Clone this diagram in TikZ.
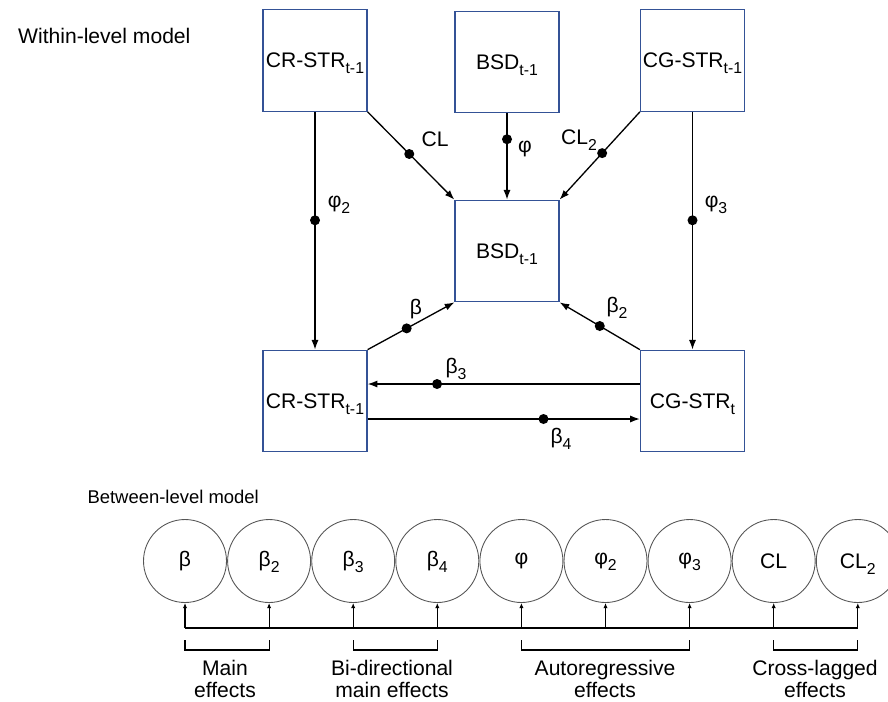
\documentclass[tikz,border=0pt]{standalone}
\usepackage{fontspec}
\setmainfont{Liberation Sans}
\usetikzlibrary{arrows.meta}
\definecolor{boxblue}{RGB}{52,82,150}
\definecolor{ringgray}{RGB}{85,85,85}
\newcommand{\lowsub}[1]{\raisebox{-3.4pt}[0pt][0pt]{\fontsize{9}{10}\selectfont #1}}

\begin{document}
\begin{tikzpicture}[x=0.02cm,y=-0.02cm,
    font=\fontsize{12}{13}\selectfont,
    var/.style={draw=boxblue,line width=0.7pt,minimum width=2.08cm,minimum height=2.03cm,inner sep=0pt},
    link/.style={-{Latex[length=5.5pt,width=4pt]},line width=0.75pt},
    dot/.style={circle,fill=black,minimum size=0.2cm,inner sep=0pt},
    effect/.style={circle,draw=ringgray,line width=0.5pt,minimum size=1.66cm,inner sep=0pt},
    feed/.style={-{Latex[length=3pt,width=2.5pt]},line width=0.6pt}]
    \clip (0,0) rectangle (888,701);

    \node[anchor=base west] (within) at (12,43) {Within-level model};

    \node[var] (crA) at (315,60.5) {CR-STR\lowsub{t-1}};
    \node[var] (bsdA) at (507,62) {BSD\lowsub{t-1}};
    \node[var] (cgA) at (692.5,60.5) {CG-STR\lowsub{t-1}};
    \node[var] (bsdB) at (507,251) {BSD\lowsub{t-1}};
    \node[var] (crB) at (315,401) {CR-STR\lowsub{t-1}};
    \node[var] (cgB) at (692.5,401) {CG-STR\lowsub{t}};

    \draw[link] (crA.south east) -- node[dot,pos=.48] (dCL) {} (bsdB.north west);
    \draw[link] (bsdA.south) -- node[dot,pos=.3] (dP) {} (bsdB.north);
    \draw[link] (cgA.south west) -- node[dot,pos=.47] (dCL2) {} (bsdB.north east);
    \draw[link] (crA.south) -- node[dot,pos=.456] (dP2) {} (crB.north);
    \draw[link] (cgA.south) -- node[dot,pos=.456] (dP3) {} (cgB.north);
    \draw[link] (crB.north east) -- node[dot,pos=.45] (dB) {} (bsdB.south west);
    \draw[link] (cgB.north west) -- node[dot,pos=.5] (dB2) {} (bsdB.south east);
    \draw[link] ([yshift=0.34cm]cgB.west) -- node[dot,pos=.745] (dB3) {} ([yshift=0.34cm]crB.east);
    \draw[link] ([yshift=-0.36cm]crB.east) -- node[dot,pos=.646] (dB4) {} ([yshift=-0.36cm]cgB.west);

    \node (lCL) at (435,139) {CL};
    \node (lP) at (525,149) {φ};
    \node (lCL2) at (579,137) {CL\lowsub{2}};
    \node (lP2) at (339,204) {φ\lowsub{2}};
    \node (lP3) at (716,204) {φ\lowsub{3}};
    \node (lB) at (416,309) {β};
    \node (lB2) at (617,307) {β\lowsub{2}};
    \node (lB3) at (456,368) {β\lowsub{3}};
    \node (lB4) at (561,438) {β\lowsub{4}};

    \node[anchor=base east,font=\fontsize{10.5}{12}\selectfont] (between) at (265,503) {Between-level model};

    \foreach \n/\t [count=\i from 0] in {cB/β,cB2/β\lowsub{2},cB3/β\lowsub{3},cB4/β\lowsub{4},cP/φ,cP2/φ\lowsub{2},cP3/φ\lowsub{3},cCL/CL,cCL2/CL\lowsub{2}}
        \node[effect] (\n) at (185+84.1*\i,561) {\t};

    \coordinate (busL) at (185,628);
    \coordinate (brT) at (0,640);
    \coordinate (brB) at (0,650);
    \draw[line width=0.75pt] (cB |- busL) -- (cCL2 |- busL);
    \foreach \n in {cB,cB2,cB3,cB4,cP,cP2,cP3,cCL,cCL2}
        \draw[feed] (\n |- busL) -- (\n.south);

    \foreach \a/\b in {cB/cB2,cB3/cB4,cP/cP3,cCL/cCL2}
        \draw[line width=0.6pt] (\a |- brT) -- (\a |- brB) -- (\b |- brB) -- (\b |- brT);

    \node[align=center] (mainfx) at (225,679) {Main\\effects};
    \node[align=center] (bidirfx) at (392,679) {Bi-directional\\main effects};
    \node[align=center] (autofx) at (605,679) {Autoregressive\\effects};
    \node[align=center] (crossfx) at (815,679) {Cross-lagged\\effects};
\end{tikzpicture}
\end{document}
